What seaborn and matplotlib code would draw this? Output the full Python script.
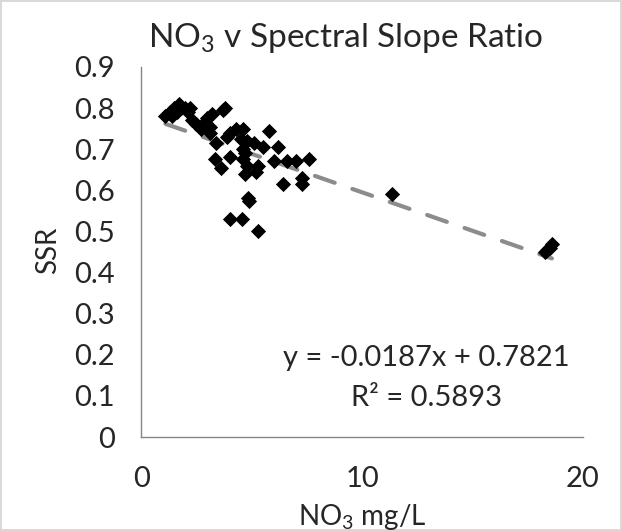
import numpy as np
import pandas as pd
import matplotlib
import matplotlib.pyplot as plt
import seaborn as sns

# nitrate (mg/L) vs spectral slope ratio
no3 = [1.1, 1.3, 1.4, 1.5, 1.6, 1.7, 1.8, 2.0, 2.1, 2.2,
       2.5, 2.7, 3.1, 3.1, 3.2, 3.4, 3.35, 3.6, 3.7, 3.8,
       3.9, 4.0, 4.0, 4.3, 4.5, 4.6, 4.6, 4.6, 4.7, 4.7,
       4.8, 4.8, 5.1, 5.2, 5.3, 5.5, 5.8, 6.0, 6.2, 6.4,
       6.6, 7.0, 7.3, 7.3, 7.6, 4.85, 4.9, 4.0, 4.55, 5.3,
       2.3, 2.8, 3.0, 11.35, 18.3, 18.4, 18.5, 18.6]
ssr = [0.78, 0.79, 0.78, 0.80, 0.79, 0.81, 0.80, 0.80, 0.79, 0.80,
       0.76, 0.75, 0.755, 0.74, 0.785, 0.715, 0.675, 0.655, 0.795, 0.80,
       0.73, 0.68, 0.74, 0.75, 0.725, 0.75, 0.70, 0.675, 0.69, 0.64,
       0.72, 0.66, 0.715, 0.645, 0.66, 0.705, 0.745, 0.67, 0.705, 0.615,
       0.67, 0.67, 0.63, 0.615, 0.675, 0.58, 0.575, 0.53, 0.53, 0.50,
       0.77, 0.76, 0.775, 0.59, 0.45, 0.455, 0.46, 0.47]

# linear trendline as printed on the chart
slope = -0.0187
intercept = 0.7821
r2 = 0.5893

x_ticks = [0, 10, 20]
y_ticks = [0, 0.1, 0.2, 0.3, 0.4, 0.5, 0.6, 0.7, 0.8, 0.9]

FONT = 'Lato'
TICK_FONT_SIZE = 21
LABEL_FONT_SIZE = 20
TITLE_FONT_SIZE = 24
axis_color = '#868686'

sns.set_style('white')
plt.rcParams['font.family'] = [FONT, 'DejaVu Sans']
plt.rcParams['mathtext.fontset'] = 'custom'
plt.rcParams['mathtext.rm'] = FONT
plt.rcParams['mathtext.it'] = FONT

df = pd.DataFrame({'no3': no3, 'ssr': ssr})
trend_x = np.array([min(no3), max(no3)])
trend = pd.DataFrame({'no3': trend_x, 'ssr': slope * trend_x + intercept})

fig = plt.figure(figsize=(6.22, 5.31), dpi=100)
fig.patch.set_edgecolor('#d9d9d9')
fig.patch.set_linewidth(1.5)
ax = fig.add_axes([0.227, 0.177, 0.710, 0.697])

sns.lineplot(data=trend, x='no3', y='ssr', ax=ax, color='#8c8c8c',
             linewidth=3, dashes=False, zorder=1)
ax.lines[-1].set_linestyle((0, (5, 4.5)))
ax.lines[-1].set_dash_capstyle('round')
sns.scatterplot(data=df, x='no3', y='ssr', ax=ax, marker='D', color='black',
                s=60, edgecolor='black', linewidth=0, zorder=2)

ax.set_xlim(0, 20)
ax.set_ylim(0, 0.9)
ax.set_xticks(x_ticks)
ax.set_yticks(y_ticks)
ax.set_xticklabels([str(t) for t in x_ticks], size=TICK_FONT_SIZE)
ax.set_yticklabels(['0'] + ['{:.1f}'.format(t) for t in y_ticks[1:]], size=TICK_FONT_SIZE)
ax.tick_params(axis='x', length=0, pad=21)
ax.tick_params(axis='y', length=0, pad=19)

for s in ['top', 'right']:
    ax.spines[s].set_visible(False)
for s in ['left', 'bottom']:
    ax.spines[s].set_color(axis_color)
    ax.spines[s].set_linewidth(1)

ax.set_xlabel(r'NO$\mathregular{_3}$ mg/L', size=LABEL_FONT_SIZE, va='center')
ax.xaxis.set_label_coords(0.5, -0.215)
ax.set_ylabel('SSR', size=LABEL_FONT_SIZE, va='center')
ax.yaxis.set_label_coords(-0.21, 0.505)

fig.text(0.556, 0.928, r'NO$\mathregular{_3}$ v Spectral Slope Ratio',
         size=TITLE_FONT_SIZE, ha='center', va='center')

ax.text(12.9, 0.192, 'y = {:.4f}x + {:.4f}'.format(slope, intercept),
        size=TICK_FONT_SIZE, ha='center', va='center')
ax.text(12.9, 0.094, 'R\u00b2 = {:.4f}'.format(r2),
        size=TICK_FONT_SIZE, ha='center', va='center')

ax.grid(False)
plt.savefig('out.png', dpi=100, edgecolor=fig.get_edgecolor())
plt.close()
